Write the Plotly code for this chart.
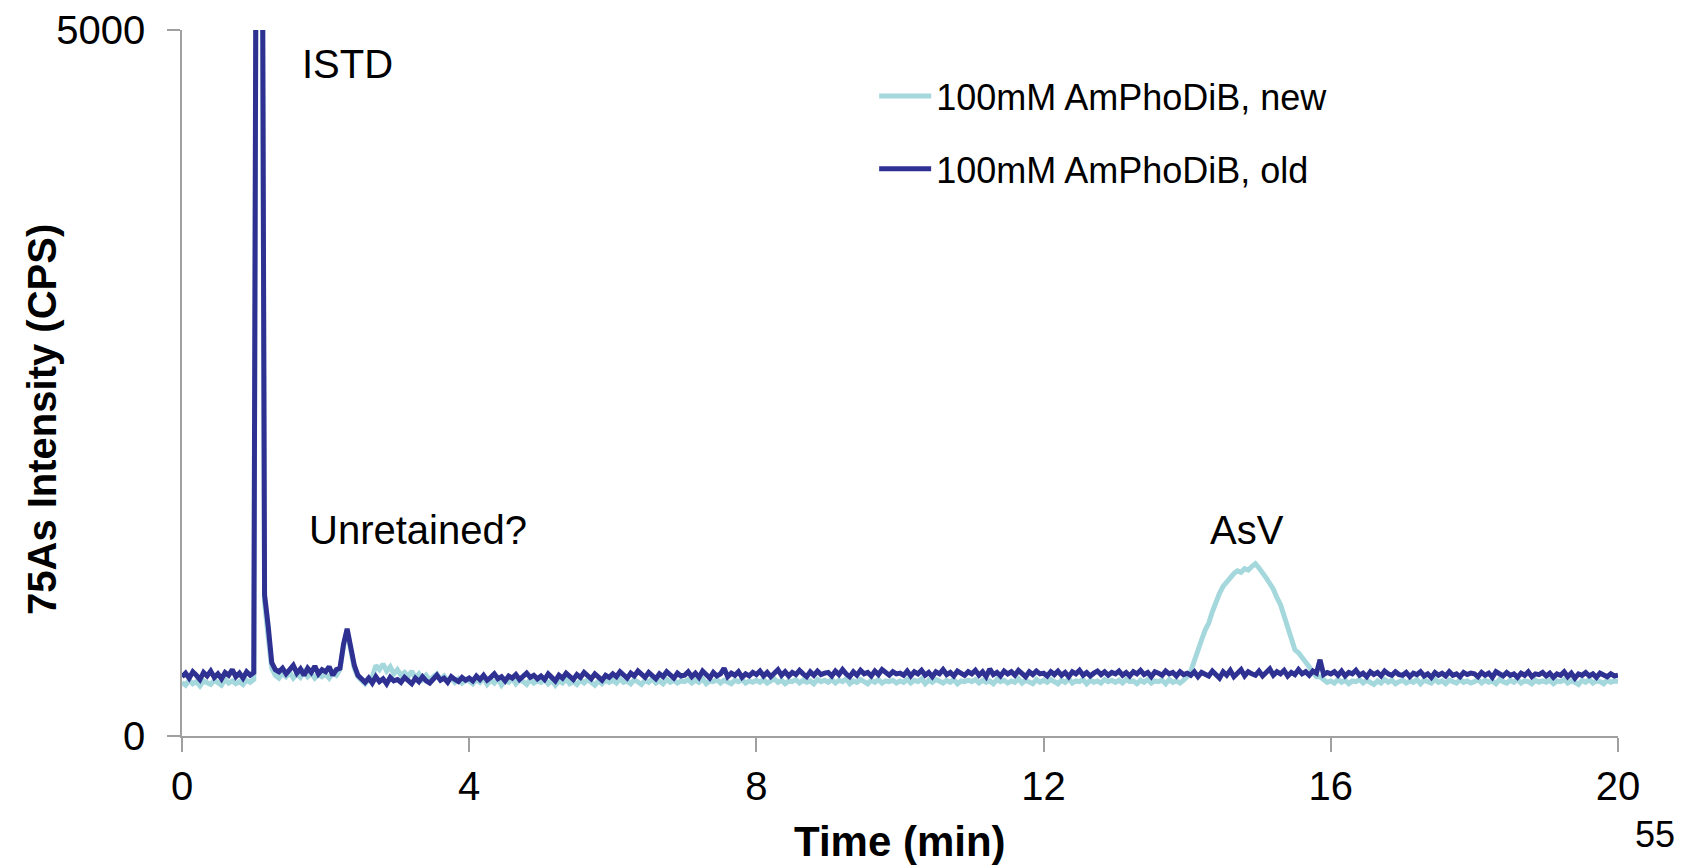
import numpy as np
import plotly.graph_objects as go

# Time grid (min), 0.05 min steps
time_min = np.round(np.arange(0, 20.0001, 0.05), 2)

# 100mM AmPhoDiB, old (dark) - counts per second, one row per minute
old_cps = [
    420,445,410,455,430,400,450,425,460,415,440,405,450,430,470,420,445,410,455,430,
    450,9000,9000,1000,780,520,470,455,480,440,470,500,445,475,430,480,450,495,440,470,
    455,490,430,470,480,650,760,610,500,430,400,380,410,375,420,385,405,370,415,390,
    400,380,415,395,370,410,385,420,390,375,405,430,395,410,380,420,400,385,415,395,
    410,390,425,400,430,395,415,440,405,420,390,425,410,435,400,420,445,415,430,405,
    425,400,440,415,390,430,410,445,420,400,435,415,450,425,405,440,420,395,430,415,
    440,420,455,430,410,445,425,460,435,415,450,430,405,440,420,455,435,410,445,425,
    430,455,420,445,415,460,435,410,450,425,440,480,420,445,430,455,415,440,425,450,
    435,460,425,450,420,445,470,430,455,425,450,435,465,440,420,455,430,460,435,445,
    450,425,460,435,470,440,420,455,430,465,440,450,425,460,435,470,445,430,455,440,
    445,430,460,425,455,440,465,430,450,420,455,440,470,435,450,425,460,445,430,455,
    440,465,430,455,420,475,435,450,425,460,440,455,430,465,445,420,455,435,460,440,
    445,425,455,435,460,430,450,420,455,440,465,430,450,425,445,460,435,455,430,450,
    440,460,430,450,425,455,440,465,435,450,420,455,445,430,460,440,450,425,455,435,
    445,430,455,420,450,440,425,460,435,410,455,430,465,420,445,470,425,455,440,430,
    460,425,450,475,430,455,440,465,425,450,435,470,440,455,430,460,445,540,435,450,
    440,455,430,460,425,450,440,465,430,445,420,455,435,450,425,460,440,430,455,435,
    430,450,420,445,435,455,425,440,415,450,430,445,425,455,430,440,420,450,435,445,
    440,420,450,430,445,415,455,435,425,450,430,440,415,445,430,455,420,440,435,450,
    425,445,415,440,430,455,420,445,410,440,430,450,425,440,415,445,430,420,440,425,
    430,
]

# 100mM AmPhoDiB, new (light) - counts per second, one row per minute
new_cps = [
    380,360,395,370,385,355,390,375,365,395,380,360,400,375,390,370,385,365,395,380,
    400,8500,8500,950,700,480,430,410,445,420,450,410,440,415,455,420,445,410,435,420,
    440,410,445,430,470,640,740,600,480,420,390,370,400,420,500,470,510,460,490,440,
    470,430,450,420,460,410,440,400,430,395,420,440,400,425,390,410,380,405,375,395,
    390,370,400,380,410,365,395,375,405,360,390,380,410,370,395,385,365,400,375,390,
    380,400,370,395,360,390,375,405,370,385,365,395,375,400,380,360,390,370,395,380,
    395,375,405,380,390,370,400,385,365,395,380,405,375,390,370,400,380,395,375,390,
    385,400,375,395,380,405,370,390,385,400,375,395,380,370,395,385,400,375,390,380,
    395,380,400,375,390,405,380,395,370,390,385,400,375,395,380,390,370,400,385,395,
    380,400,375,395,385,405,370,390,380,400,385,370,395,380,400,375,390,385,395,375,
    390,380,400,375,395,385,405,370,395,380,400,385,375,395,380,400,370,390,385,395,
    385,400,375,395,380,390,370,400,385,395,375,390,380,405,375,395,385,370,400,380,
    395,380,400,385,370,395,380,405,375,390,385,400,370,395,380,390,375,400,385,395,
    380,395,375,400,385,390,370,395,380,400,375,390,385,395,370,400,380,390,375,395,
    420,460,540,610,680,750,800,880,950,1010,1060,1090,1130,1150,1170,1160,1185,1175,1200,1220,
    1190,1160,1120,1080,1040,980,930,850,770,690,610,590,560,520,490,450,420,420,395,380,
    390,375,400,380,395,370,390,385,400,375,395,380,365,390,375,400,380,395,370,385,
    395,375,390,380,400,370,395,385,375,400,380,390,370,395,385,375,400,380,390,375,
    385,400,375,395,380,390,370,400,385,375,395,380,400,375,390,385,370,395,380,390,
    380,395,370,390,385,400,375,390,380,365,395,380,400,375,390,385,370,395,380,390,
    385,
]

series_names = ["100mM AmPhoDiB, new", "100mM AmPhoDiB, old"]
x_ticks = [0, 4, 8, 12, 16, 20]
y_ticks = [0, 5000]

FONT = "Liberation Sans, Arial, sans-serif"
LIGHT = "#A4D8DC"
DARK = "#2E3192"

fig = go.Figure()
fig.add_trace(go.Scatter(x=time_min, y=new_cps, mode="lines", name=series_names[0],
                         line=dict(color=LIGHT, width=5), legendgroup="a"))
fig.add_trace(go.Scatter(x=time_min, y=old_cps, mode="lines", name=series_names[1],
                         line=dict(color=DARK, width=5), legendgroup="b"))

fig.update_layout(
    width=1680, height=860,
    margin=dict(l=174, r=70, t=22, b=132),
    paper_bgcolor="white", plot_bgcolor="white",
    font=dict(family=FONT, color="black", size=40),
    showlegend=True,
    legend=dict(x=0.482, y=0.949, xanchor="left", yanchor="top",
                font=dict(size=36, family=FONT), bgcolor="rgba(0,0,0,0)",
                traceorder="grouped", tracegroupgap=23, itemwidth=52),
    xaxis=dict(range=[0, 20], tickvals=x_ticks, showgrid=False, zeroline=False,
               showline=True, linecolor="#A0A0A0", linewidth=1.5,
               ticks="outside", ticklen=14, tickcolor="#A0A0A0", tickwidth=1.5,
               tickfont=dict(size=40), ticklabelstandoff=0, automargin=False),
    yaxis=dict(range=[0, 5000], tickvals=y_ticks, showgrid=False, zeroline=False,
               showline=True, linecolor="#A0A0A0", linewidth=1.5,
               ticks="outside", ticklen=13, tickcolor="#A0A0A0", tickwidth=1.5,
               tickfont=dict(size=40), ticklabelstandoff=14, automargin=False),
    annotations=[
        dict(text="ISTD", x=1.64, y=4760, xref="x", yref="y", showarrow=False,
             font=dict(size=40), xanchor="left", yanchor="middle"),
        dict(text="Unretained?", x=3.28, y=1460, xref="x", yref="y", showarrow=False,
             font=dict(size=40), xanchor="center", yanchor="middle"),
        dict(text="AsV", x=14.83, y=1460, xref="x", yref="y", showarrow=False,
             font=dict(size=40), xanchor="center", yanchor="middle"),
        dict(text="<b>Time (min)</b>", x=0.5, y=-0.15, xref="paper", yref="paper",
             showarrow=False, font=dict(size=42), xanchor="center", yanchor="middle"),
        dict(text="<b>75As Intensity (CPS)</b>", x=-0.0975, y=0.449, xref="paper", yref="paper",
             showarrow=False, font=dict(size=40), textangle=-90,
             xanchor="center", yanchor="middle"),
        dict(text="55", x=1.0258, y=-0.14, xref="paper", yref="paper", showarrow=False,
             font=dict(size=36), xanchor="center", yanchor="middle"),
    ],
)

fig.write_html("out.html")
